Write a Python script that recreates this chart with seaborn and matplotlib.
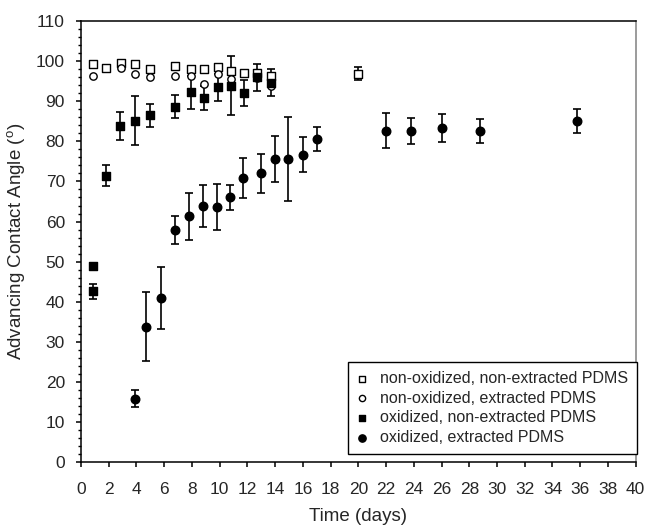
import numpy as np
import pandas as pd
import matplotlib
matplotlib.use("Agg")
import matplotlib.pyplot as plt
import seaborn as sns

# non-oxidized, non-extracted PDMS (open squares)
nn_day = [0.9, 1.8, 2.9, 3.9, 5.0, 6.8, 7.9, 8.9, 9.85, 10.8, 11.75, 12.7, 13.7, 20.0]
nn_angle = [99.2, 98.2, 99.6, 99.2, 98.0, 98.8, 98.0, 98.0, 98.6, 97.6, 97.0, 97.0, 96.4, 96.9]
nn_err = [0, 0, 0, 0, 0, 0, 0, 0, 0, 0, 0, 0, 0, 1.7]

# non-oxidized, extracted PDMS (open circles)
ne_day = [0.9, 2.9, 3.9, 5.0, 6.8, 7.9, 8.9, 9.85, 10.8, 12.7, 13.7]
ne_angle = [96.3, 98.2, 96.7, 96.0, 96.3, 96.3, 94.4, 96.9, 95.5, 95.7, 93.8]

# oxidized, non-extracted PDMS (filled squares)
on_day = [0.85, 0.9, 1.8, 2.8, 3.9, 5.0, 6.8, 7.9, 8.9, 9.85, 10.8, 11.75, 12.7, 13.7]
on_angle = [42.6, 49.0, 71.4, 83.8, 85.2, 86.5, 88.7, 92.2, 90.8, 93.5, 93.9, 92.1, 96.0, 94.6]
on_err = [1.9, 0.5, 2.6, 3.5, 6.0, 2.9, 2.9, 4.0, 3.0, 3.3, 7.4, 3.2, 3.4, 3.4]

# oxidized, extracted PDMS (filled circles)
oe_day = [3.9, 4.7, 5.75, 6.75, 7.8, 8.8, 9.8, 10.75, 11.65, 13.0, 14.0, 14.9, 16.0, 17.0,
          22.0, 23.8, 26.0, 28.8, 35.8]
oe_angle = [15.8, 33.7, 41.0, 57.9, 61.3, 63.9, 63.6, 66.0, 70.9, 72.0, 75.6, 75.7, 76.7, 80.6,
            82.7, 82.6, 83.4, 82.6, 85.0]
oe_err = [2.2, 8.6, 7.7, 3.6, 5.9, 5.3, 5.8, 3.2, 5.0, 4.8, 5.8, 10.5, 4.3, 3.0,
          4.3, 3.3, 3.5, 3.0, 3.0]

sns.set_style("ticks")
plt.rcParams["font.family"] = ["Liberation Sans", "DejaVu Sans"]
plt.rcParams["mathtext.fontset"] = "custom"
plt.rcParams["mathtext.rm"] = "Liberation Sans"

fig = plt.figure(figsize=(6.48, 5.29), dpi=100)
ax = fig.add_axes([0.125, 0.1267, 0.856, 0.8333])

series = [
    ("non-oxidized, non-extracted PDMS", nn_day, nn_angle, nn_err, "s", "white", 30),
    ("non-oxidized, extracted PDMS", ne_day, ne_angle, None, "o", "white", 28),
    ("oxidized, non-extracted PDMS", on_day, on_angle, on_err, "s", "black", 30),
    ("oxidized, extracted PDMS", oe_day, oe_angle, oe_err, "o", "black", 38),
]

for label, x, y, err, marker, face, size in series:
    if err is not None:
        e = np.array(err)
        m = e > 0
        ax.errorbar(np.array(x)[m], np.array(y)[m], yerr=e[m], fmt="none",
                    ecolor="black", elinewidth=1.2, capsize=3.2, capthick=1.2, zorder=2)
    df = pd.DataFrame({"day": x, "angle": y})
    sns.scatterplot(data=df, x="day", y="angle", marker=marker, s=size,
                    facecolor=face, edgecolor="black", linewidth=1.0,
                    label=label, ax=ax, zorder=3)

ax.set_xlim(0, 40)
ax.set_ylim(0, 110)
ax.set_xticks(np.arange(0, 41, 2))
ax.set_yticks(np.arange(0, 111, 10))
ax.set_yticks(np.arange(0, 111, 2), minor=True)
ax.tick_params(axis="both", which="major", direction="out", length=3.6, width=1.1,
               labelsize=12.5, color="black")
ax.tick_params(axis="x", which="major", pad=11)
ax.tick_params(axis="y", which="major", pad=8)
ax.tick_params(axis="y", which="minor", direction="out", length=2.5, width=1.0, color="black")
for side in ["left", "bottom", "top"]:
    ax.spines[side].set_color("black")
    ax.spines[side].set_linewidth(1.1)
ax.spines["right"].set_color("#808080")
ax.spines["right"].set_linewidth(1.1)

ax.set_xlabel("Time (days)", fontsize=13.5, labelpad=8)
ax.set_ylabel(r"Advancing Contact Angle ($^{\rm o}$)", fontsize=13.5, labelpad=6)

leg = ax.legend(loc="lower right", bbox_to_anchor=(1.003, 0.018), borderaxespad=0,
                fontsize=11.5, frameon=True, fancybox=False, edgecolor="black",
                framealpha=1, markerscale=0.85, handletextpad=0.8, labelspacing=0.3,
                borderpad=0.55, handlelength=0.7)
leg.get_frame().set_linewidth(1.0)

fig.savefig("out.png", dpi=100)
